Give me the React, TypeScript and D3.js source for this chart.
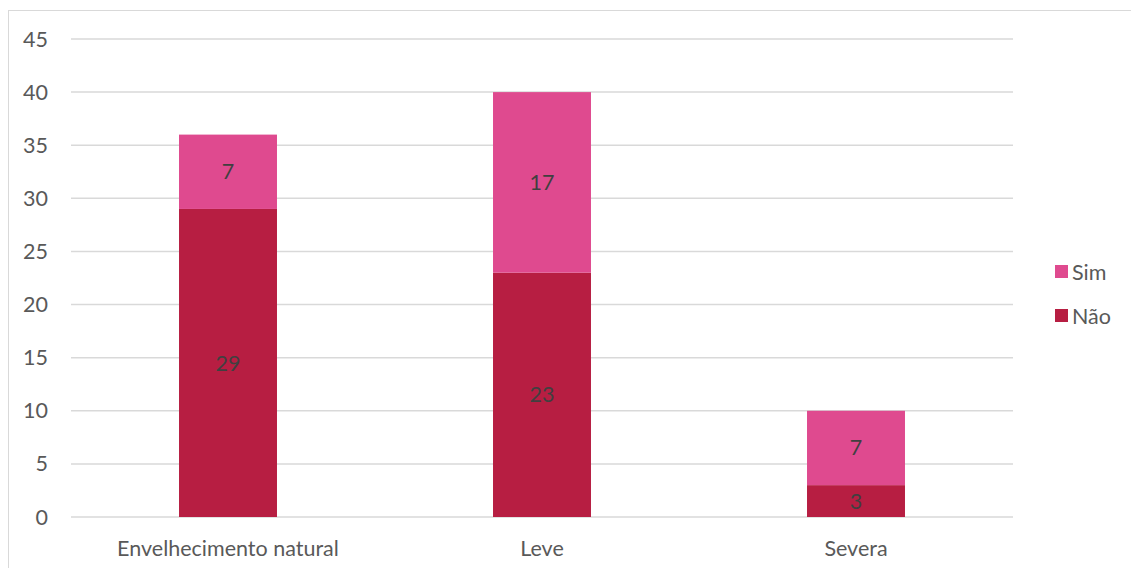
import React from 'react';
import * as d3 from 'd3';

const categories = ['Envelhecimento natural', 'Leve', 'Severa'];
const naoValues = [29, 23, 3];
const simValues = [7, 17, 7];
const yTicks = [0, 5, 10, 15, 20, 25, 30, 35, 40, 45];

const W = 1131;
const H = 568;
const margin = { top: 39, right: 118, bottom: 51, left: 71 };
const font = "'Lato', 'Open Sans', sans-serif";
const colNao = '#B71E42';
const colSim = '#DF4A8F';
const textCol = '#595959';
const fs = 21.5;

const App: React.FC = () => {
  const x = d3.scaleBand()
    .domain(categories)
    .range([margin.left, W - margin.right])
    .paddingInner(0.688)
    .paddingOuter(0.344);

  const y = d3.scaleLinear()
    .domain([0, 45])
    .range([H - margin.bottom, margin.top]);

  const stacks = categories.map((c, i) => ({
    cat: c,
    parts: [
      { key: 'Não', y0: 0, y1: naoValues[i], v: naoValues[i], color: colNao },
      { key: 'Sim', y0: naoValues[i], y1: naoValues[i] + simValues[i], v: simValues[i], color: colSim },
    ],
  }));

  const legend = [
    { key: 'Sim', color: colSim },
    { key: 'Não', color: colNao },
  ];

  return (
    <svg width={W} height={H} style={{ position: 'absolute', left: 0, top: 0, background: '#fff' }} fontFamily={font}>
      <rect x={8.5} y={10.5} width={W} height={H} fill="none" stroke="#d9d9d9" />
      {/* grid */}
      {yTicks.map(t => (
        <g key={t}>
          <line x1={margin.left} x2={W - margin.right} y1={y(t)} y2={y(t)} stroke="#d9d9d9" strokeWidth={1.5} />
          <text x={48} y={y(t)} dy="0.35em" textAnchor="end" fontSize={fs} fill={textCol}>{t}</text>
        </g>
      ))}
      {/* bars */}
      {stacks.map(s => (
        <g key={s.cat}>
          {s.parts.map(p => (
            <g key={p.key}>
              <rect x={x(s.cat)!} width={x.bandwidth()} y={y(p.y1)} height={y(p.y0) - y(p.y1)} fill={p.color} />
              <text x={x(s.cat)! + x.bandwidth() / 2} y={(y(p.y0) + y(p.y1)) / 2} dy="0.35em" textAnchor="middle" fontSize={fs} fill="#404040">{p.v}</text>
            </g>
          ))}
          <text x={x(s.cat)! + x.bandwidth() / 2} y={548} dy="0.35em" textAnchor="middle" fontSize={fs} fill={textCol}>{s.cat}</text>
        </g>
      ))}
      {/* legend */}
      {legend.map((l, i) => (
        <g key={l.key} transform={`translate(1055, ${265 + i * 44})`}>
          <rect width={13} height={13} fill={l.color} />
          <text x={17} y={7} dy="0.35em" fontSize={fs} fill={textCol}>{l.key}</text>
        </g>
      ))}
    </svg>
  );
};

export default App;
